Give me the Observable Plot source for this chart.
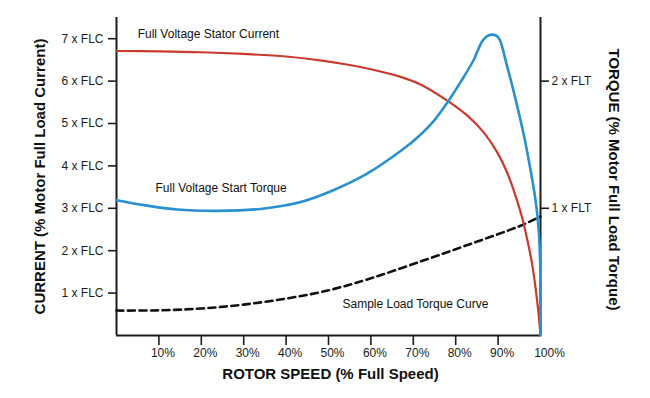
<!DOCTYPE html>
<html><head><meta charset="utf-8">
<script src="https://cdn.jsdelivr.net/npm/d3@7"></script>
<script src="https://cdn.jsdelivr.net/npm/@observablehq/plot@0.6"></script>
<style>body{margin:0;background:#fff;} svg{font-family:"Liberation Sans",Arial,sans-serif;}</style>
</head><body><div id="chart"></div>
<script>
// Rotor speed (% of full speed) and stator current (x FLC)
const speedCurrent = [0, 10, 20, 30, 40, 48, 55, 60, 67, 71.7, 78, 82.7, 86.6, 89.8, 92.1, 94.1, 95.7, 96.9, 98, 98.8, 99.5, 100];
const currentFLC   = [6.71, 6.70, 6.68, 6.64, 6.58, 6.49, 6.38, 6.28, 6.10, 5.92, 5.54, 5.19, 4.79, 4.32, 3.85, 3.30, 2.77, 2.25, 1.70, 1.15, 0.55, 0];
// Full voltage start torque (x FLT)
const speedTorque = [0, 6.4, 14.3, 23.8, 34, 43, 51, 59, 67, 70.9, 74.8, 78, 81.1, 84.3, 86.2, 87.8, 89.4, 90.3, 92.1, 94.1, 96.1, 97.6, 98.8, 99.5, 99.9, 100];
const torqueFLT   = [1.064, 1.025, 0.99, 0.98, 0.995, 1.045, 1.14, 1.27, 1.45, 1.555, 1.686, 1.83, 1.99, 2.17, 2.31, 2.36, 2.36, 2.33, 2.12, 1.86, 1.57, 1.31, 1.07, 0.86, 0.6, 0];
// Sample load torque curve (x FLT)
const speedLoad = [0, 10, 20, 30, 40, 50, 60, 72, 83.5, 95.3, 100];
const loadFLT   = [0.196, 0.198, 0.212, 0.243, 0.29, 0.355, 0.45, 0.585, 0.72, 0.863, 0.935];

const currentTicks = [1, 2, 3, 4, 5, 6, 7];
const torqueTicks = [1, 2];
const speedTicks = [10, 20, 30, 40, 50, 60, 70, 80, 90];
const speedLastTick = [100];
const FLC_PER_FLT = 3; // 1 x FLT aligns with 3 x FLC on the drawing

const annotations = [
  {text: "Full Voltage Stator Current", speed: 5, flc: 7.1},
  {text: "Full Voltage Start Torque", speed: 9.2, flc: 3.47},
  {text: "Sample Load Torque Curve", speed: 53.3, flc: 0.75}
];

const currentData = speedCurrent.map((s, i) => ({s, v: currentFLC[i]}));
const torqueData = speedTorque.map((s, i) => ({s, v: torqueFLT[i] * FLC_PER_FLT}));
const loadData = speedLoad.map((s, i) => ({s, v: loadFLT[i] * FLC_PER_FLT}));

const RED = "#cc3a2e", BLUE = "#2a90cf", INK = "#1c1c1c";

const chart = Plot.plot({
  width: 650, height: 398,
  marginLeft: 116, marginRight: 110, marginTop: 17, marginBottom: 63,
  style: {fontFamily: "'Liberation Sans', Arial, sans-serif", fontSize: "12px", background: "white", color: INK},
  x: {domain: [0, 100]},
  y: {domain: [0, 7.5]},
  marks: [
    Plot.axisY({ticks: currentTicks, tickFormat: d => `${d} x FLC`, tickSize: 8, tickPadding: 5, label: null, strokeWidth: 1.6, fontSize: 12}),
    Plot.axisY({anchor: "right", ticks: torqueTicks.map(t => t * FLC_PER_FLT), tickFormat: d => `${d / FLC_PER_FLT} x FLT`, tickSize: 8, tickPadding: 3, label: null, strokeWidth: 1.6, fontSize: 12}),
    Plot.axisX({ticks: speedTicks, tickFormat: () => "", tickSize: 10, label: null, strokeWidth: 1.6}),
    Plot.text(speedTicks, {x: d => d, frameAnchor: "bottom", dy: 21, dx: 4, text: d => d + "%", fontSize: 12, fill: INK}),
    Plot.text(speedLastTick, {x: d => d, frameAnchor: "bottom", dy: 21, dx: 9, text: d => d + "%", fontSize: 12, fill: INK}),
    Plot.ruleX([0, 100], {stroke: INK, strokeWidth: 2}),
    Plot.ruleY([0], {stroke: INK, strokeWidth: 2}),
    Plot.line(loadData, {x: "s", y: "v", stroke: "#111", strokeWidth: 2.6, strokeDasharray: "7,4.5", curve: "catmull-rom"}),
    Plot.line(currentData, {x: "s", y: "v", stroke: RED, strokeWidth: 2.2, curve: "catmull-rom"}),
    Plot.line(torqueData, {x: "s", y: "v", stroke: BLUE, strokeWidth: 2.6, curve: "catmull-rom"}),
    Plot.text(annotations, {x: "speed", y: "flc", text: "text", textAnchor: "start", fontSize: 12, fill: "#111"}),
    Plot.text(["CURRENT (% Motor Full Load Current)"], {frameAnchor: "left", textAnchor: "middle", dx: -76, rotate: -90, fontWeight: "bold", fontSize: 15, fill: "#111"}),
    Plot.text(["TORQUE (% Motor Full Load Torque)"], {frameAnchor: "right", textAnchor: "middle", dx: 73, dy: 3, rotate: 90, fontWeight: "bold", fontSize: 15, fill: "#111"}),
    Plot.text(["ROTOR SPEED (% Full Speed)"], {frameAnchor: "bottom", dy: 43, dx: 2, fontWeight: "bold", fontSize: 15, fill: "#111"})
  ]
});
document.getElementById("chart").appendChild(chart);
</script>
</body></html>
